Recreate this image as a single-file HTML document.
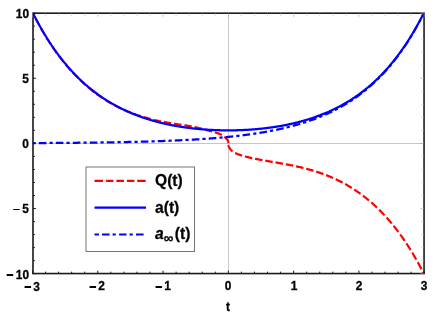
<!DOCTYPE html>
<html><head><meta charset="utf-8"><title>plot</title>
<style>
html,body{margin:0;padding:0;background:#fff;}
body{width:436px;height:317px;position:relative;overflow:hidden;font-family:"Liberation Sans",sans-serif;}
.m{display:inline-block;width:7.1px;height:1.6px;background:#000;margin-right:2.6px;vertical-align:2.75px;}
.t{position:absolute;filter:grayscale(1);-webkit-text-stroke:0.3px #000;font-family:"Liberation Sans",sans-serif;font-weight:bold;color:#000;line-height:1;white-space:nowrap;}
</style></head><body>
<svg width="436" height="317" viewBox="0 0 436 317" style="position:absolute;left:0;top:0"><defs><clipPath id="c"><rect x="32.5" y="13.1" width="391.7" height="260.59999999999997"/></clipPath></defs><line x1="228.5" y1="13.1" x2="228.5" y2="273.7" stroke="#cacaca" stroke-width="1"/><line x1="32.5" y1="143.5" x2="424.2" y2="143.5" stroke="#c6c6c6" stroke-width="1"/><g clip-path="url(#c)"><g transform="scale(1,1.076)" fill="none" stroke-linejoin="round"><path d="M32.50,11.56 L33.42,13.25 L34.34,14.93 L35.26,16.58 L36.17,18.21 L37.09,19.81 L38.01,21.39 L38.93,22.95 L39.85,24.49 L40.77,26.01 L41.69,27.50 L42.60,28.97 L43.52,30.43 L44.44,31.86 L45.36,33.27 L46.28,34.67 L47.20,36.04 L48.12,37.39 L49.03,38.73 L49.95,40.05 L50.87,41.34 L51.79,42.62 L52.71,43.88 L53.63,45.13 L54.55,46.35 L55.46,47.56 L56.38,48.76 L57.30,49.93 L58.22,51.09 L59.14,52.23 L60.06,53.36 L60.98,54.47 L61.89,55.56 L62.81,56.64 L63.73,57.71 L64.65,58.76 L65.57,59.79 L66.49,60.81 L67.41,61.82 L68.32,62.81 L69.24,63.78 L70.16,64.75 L71.08,65.70 L72.00,66.63 L72.92,67.55 L73.84,68.46 L74.75,69.36 L75.67,70.24 L76.59,71.12 L77.51,71.97 L78.43,72.82 L79.35,73.66 L80.27,74.48 L81.18,75.29 L82.10,76.09 L83.02,76.88 L83.94,77.65 L84.86,78.42 L85.78,79.17 L86.70,79.91 L87.61,80.65 L88.53,81.37 L89.45,82.08 L90.37,82.78 L91.29,83.47 L92.21,84.15 L93.12,84.82 L94.04,85.48 L94.96,86.13 L95.88,86.77 L96.80,87.40 L97.72,88.03 L98.64,88.64 L99.55,89.24 L100.47,89.83 L101.39,90.42 L102.31,90.99 L103.23,91.56 L104.15,92.11 L105.07,92.66 L105.98,93.20 L106.90,93.73 L107.82,94.25 L108.74,94.76 L109.66,95.26 L110.58,95.76 L111.50,96.24 L112.41,96.72 L113.33,97.19 L114.25,97.65 L115.17,98.10 L116.09,98.55 L117.01,98.99 L117.93,99.42 L118.84,99.84 L119.76,100.26 L120.68,100.66 L121.60,101.06 L122.52,101.46 L123.44,101.84 L124.36,102.22 L125.27,102.60 L126.19,102.96 L127.11,103.32 L128.03,103.68 L128.95,104.02 L129.87,104.36 L130.79,104.70 L131.70,105.03 L132.62,105.35 L133.54,105.67 L134.46,105.98 L135.38,106.29 L136.30,106.60 L137.22,106.89 L138.13,107.19 L139.05,107.47 L139.97,107.76 L140.89,108.03 L141.81,108.31 L142.73,108.57 L143.65,108.84 L144.56,109.09 L145.48,109.35 L146.40,109.60 L147.32,109.84 L148.24,110.08 L149.16,110.31 L150.08,110.54 L150.99,110.76 L151.91,110.98 L152.83,111.19 L153.75,111.40 L154.67,111.61 L155.59,111.81 L156.51,112.00 L157.42,112.19 L158.34,112.37 L159.26,112.55 L160.18,112.72 L161.10,112.89 L162.02,113.05 L162.94,113.21 L163.85,113.37 L164.77,113.52 L165.69,113.67 L166.61,113.82 L167.53,113.97 L168.45,114.12 L169.37,114.27 L170.28,114.42 L171.20,114.56 L172.12,114.70 L173.04,114.84 L173.96,114.98 L174.88,115.12 L175.80,115.26 L176.71,115.39 L177.63,115.52 L178.55,115.65 L179.47,115.77 L180.39,115.89 L181.31,116.01 L182.23,116.13 L183.14,116.24 L184.06,116.37 L184.98,116.49 L185.90,116.62 L186.82,116.75 L187.74,116.89 L188.66,117.04 L189.57,117.19 L190.49,117.35 L191.41,117.52 L192.33,117.69 L193.25,117.86 L194.17,118.04 L195.09,118.22 L196.00,118.40 L196.92,118.59 L197.84,118.77 L198.76,118.96 L199.68,119.17 L200.60,119.38 L201.51,119.60 L202.43,119.83 L203.35,120.06 L204.27,120.30 L205.19,120.53 L206.11,120.76 L207.03,120.98 L207.94,121.21 L208.86,121.44 L209.78,121.67 L210.70,121.90 L211.62,122.14 L212.54,122.37 L213.46,122.61 L214.37,122.86 L215.29,123.11 L216.34,123.39 L217.30,123.68 L218.18,123.95 L218.99,124.22 L219.74,124.49 L220.43,124.79 L221.06,125.10 L221.64,125.41 L222.18,125.72 L222.67,126.02 L223.12,126.30 L223.54,126.58 L223.92,126.84 L224.28,127.08 L224.60,127.32 L224.90,127.57 L225.18,127.80 L225.43,128.03 L225.66,128.25 L225.88,128.45 L226.08,128.64 L226.26,128.82 L226.42,128.99 L226.58,129.14 L226.72,129.28 L226.85,129.42 L226.97,129.54 L227.08,129.66 L227.18,129.77 L227.27,129.88 L227.36,129.98 L227.44,130.08 L227.51,130.18 L227.58,130.27 L227.64,130.36 L227.70,130.45 L227.75,130.53 L227.80,130.61 L227.84,130.68 L227.88,130.76 L227.92,130.83 L227.95,130.90 L227.99,130.97 L228.01,131.03 L228.04,131.09 L228.07,131.16 L228.09,131.21 L228.11,131.27 L228.13,131.33 L228.15,131.38 L228.16,131.43 L228.18,131.49 L228.19,131.53 L228.20,131.58 L228.22,131.63 L228.23,131.67 L228.24,131.72 L228.25,131.76 L228.25,131.80 L228.26,131.84 L228.27,131.88 L228.28,131.92 L228.28,131.96 L228.29,131.99 L228.29,132.03 L228.30,132.06 L228.30,132.10 L228.30,132.13 L228.31,132.16 L228.31,132.19 L228.31,132.22 L228.32,132.25 L228.32,132.28 L228.32,132.30 L228.32,132.33 L228.33,132.36 L228.33,132.38 L228.33,132.41 L228.33,132.43 L228.33,132.45 L228.33,132.48 L228.34,132.50 L228.34,132.52 L228.34,132.54 L228.34,132.56 L228.34,132.58 L228.34,132.60 L228.34,132.62 L228.34,132.63 L228.34,132.65 L228.34,132.67 L228.34,132.68 L228.34,132.70 L228.34,132.72 L228.35,132.73 L228.35,132.75 L228.35,132.76 L228.35,132.77 L228.35,132.79 L228.35,132.80 L228.35,132.81 L228.35,132.83 L228.35,132.84 L228.35,132.85 L228.35,132.86 L228.35,132.87 L228.35,132.88 L228.35,132.90 L228.35,132.91 L228.35,132.92 L228.35,132.93 L228.35,132.93 L228.35,132.94 L228.35,132.95 L228.35,132.96 L228.35,132.97 L228.35,132.98 L228.35,132.99 L228.35,132.99 L228.35,133.27 L228.35,133.60 L228.36,134.08 L228.37,134.28 L228.38,134.42 L228.39,134.53 L228.40,134.63 L228.40,134.72 L228.41,134.79 L228.42,134.86 L228.43,134.93 L228.44,134.99 L228.45,135.04 L228.46,135.10 L228.47,135.15 L228.48,135.20 L228.49,135.24 L228.49,135.29 L228.50,135.33 L228.51,135.37 L228.52,135.41 L228.53,135.45 L228.54,135.49 L228.55,135.52 L228.56,135.56 L228.57,135.59 L228.58,135.63 L228.58,135.66 L228.59,135.69 L228.60,135.72 L228.61,135.75" stroke="#ff0000" stroke-width="2.1" stroke-dasharray="7.5 2.9" stroke-dashoffset="4.0"/><path d="M228.40,134.69 L228.40,134.72 L228.41,134.74 L228.41,134.76 L228.41,134.79 L228.42,134.81 L228.42,134.84 L228.42,134.86 L228.43,134.89 L228.43,134.91 L228.43,134.94 L228.44,134.96 L228.44,134.99 L228.45,135.02 L228.45,135.05 L228.45,135.08 L228.46,135.10 L228.46,135.13 L228.47,135.16 L228.48,135.19 L228.48,135.23 L228.49,135.26 L228.49,135.29 L228.50,135.32 L228.51,135.36 L228.52,135.39 L228.52,135.42 L228.53,135.46 L228.54,135.49 L228.55,135.53 L228.56,135.57 L228.57,135.61 L228.58,135.64 L228.59,135.68 L228.60,135.72 L228.61,135.77 L228.63,135.81 L228.64,135.85 L228.65,135.89 L228.67,135.94 L228.68,135.98 L228.70,136.03 L228.72,136.07 L228.73,136.12 L228.75,136.17 L228.77,136.22 L228.79,136.27 L228.81,136.32 L228.83,136.38 L228.86,136.43 L228.88,136.49 L228.91,136.54 L228.93,136.60 L228.96,136.66 L228.99,136.72 L229.02,136.78 L229.05,136.85 L229.09,136.91 L229.12,136.98 L229.16,137.05 L229.20,137.12 L229.24,137.19 L229.28,137.26 L229.32,137.33 L229.37,137.41 L229.42,137.48 L229.47,137.56 L229.52,137.64 L229.58,137.73 L229.63,137.81 L229.69,137.90 L229.76,137.98 L229.82,138.07 L229.89,138.16 L229.97,138.25 L230.05,138.35 L230.13,138.44 L230.21,138.54 L230.30,138.64 L230.39,138.74 L230.49,138.85 L230.59,138.96 L230.70,139.07 L230.81,139.18 L230.92,139.30 L231.05,139.42 L231.17,139.54 L231.31,139.67 L231.45,139.79 L231.60,139.93 L231.75,140.06 L231.91,140.20 L232.08,140.34 L232.26,140.48 L232.44,140.62 L232.64,140.76 L232.84,140.91 L233.05,141.06 L233.28,141.20 L233.51,141.35 L233.76,141.49 L234.01,141.63 L234.28,141.77 L234.56,141.91 L234.86,142.05 L235.17,142.19 L235.49,142.34 L235.83,142.48 L236.19,142.63 L236.56,142.79 L236.95,142.94 L237.36,143.10 L237.79,143.26 L238.23,143.42 L238.70,143.58 L239.19,143.75 L239.71,143.92 L240.25,144.09 L240.81,144.27 L241.41,144.45 L242.33,144.71 L243.24,144.96 L244.16,145.21 L245.08,145.44 L246.00,145.66 L246.92,145.88 L247.84,146.09 L248.76,146.29 L249.67,146.49 L250.59,146.68 L251.51,146.87 L252.43,147.05 L253.35,147.23 L254.27,147.41 L255.19,147.58 L256.10,147.75 L257.02,147.91 L257.94,148.08 L258.86,148.24 L259.78,148.40 L260.70,148.55 L261.61,148.71 L262.53,148.86 L263.45,149.02 L264.37,149.17 L265.29,149.32 L266.21,149.47 L267.13,149.61 L268.04,149.76 L268.96,149.91 L269.88,150.05 L270.80,150.20 L271.72,150.34 L272.64,150.49 L273.56,150.64 L274.47,150.78 L275.39,150.93 L276.31,151.07 L277.23,151.22 L278.15,151.37 L279.07,151.52 L279.99,151.67 L280.90,151.82 L281.82,151.97 L282.74,152.12 L283.66,152.28 L284.58,152.43 L285.50,152.59 L286.42,152.75 L287.33,152.91 L288.25,153.07 L289.17,153.24 L290.09,153.40 L291.01,153.57 L291.93,153.74 L292.85,153.92 L293.76,154.09 L294.68,154.27 L295.60,154.46 L296.52,154.64 L297.44,154.83 L298.36,155.02 L299.28,155.21 L300.19,155.41 L301.11,155.61 L302.03,155.81 L302.95,156.02 L303.87,156.23 L304.79,156.45 L305.71,156.67 L306.62,156.89 L307.54,157.12 L308.46,157.35 L309.38,157.58 L310.30,157.82 L311.22,158.07 L312.14,158.32 L313.05,158.57 L313.97,158.83 L314.89,159.09 L315.81,159.36 L316.73,159.64 L317.65,159.91 L318.57,160.20 L319.48,160.49 L320.40,160.78 L321.32,161.08 L322.24,161.38 L323.16,161.70 L324.08,162.01 L325.00,162.33 L325.91,162.66 L326.83,163.00 L327.75,163.34 L328.67,163.68 L329.59,164.04 L330.51,164.40 L331.43,164.76 L332.34,165.13 L333.26,165.51 L334.18,165.90 L335.10,166.29 L336.02,166.69 L336.94,167.09 L337.86,167.51 L338.77,167.93 L339.69,168.35 L340.61,168.79 L341.53,169.23 L342.45,169.68 L343.37,170.13 L344.29,170.60 L345.20,171.07 L346.12,171.55 L347.04,172.04 L347.96,172.53 L348.88,173.04 L349.80,173.55 L350.72,174.07 L351.63,174.60 L352.55,175.14 L353.47,175.68 L354.39,176.24 L355.31,176.80 L356.23,177.38 L357.15,177.96 L358.06,178.55 L358.98,179.15 L359.90,179.76 L360.82,180.38 L361.74,181.01 L362.66,181.65 L363.58,182.29 L364.49,182.95 L365.41,183.62 L366.33,184.30 L367.25,184.99 L368.17,185.69 L369.09,186.40 L370.00,187.12 L370.92,187.85 L371.84,188.60 L372.76,189.35 L373.68,190.12 L374.60,190.90 L375.52,191.69 L376.43,192.49 L377.35,193.30 L378.27,194.12 L379.19,194.96 L380.11,195.81 L381.03,196.67 L381.95,197.55 L382.86,198.44 L383.78,199.34 L384.70,200.25 L385.62,201.18 L386.54,202.12 L387.46,203.08 L388.38,204.05 L389.29,205.03 L390.21,206.03 L391.13,207.04 L392.05,208.07 L392.97,209.11 L393.89,210.17 L394.81,211.24 L395.72,212.33 L396.64,213.44 L397.56,214.56 L398.48,215.69 L399.40,216.85 L400.32,218.02 L401.24,219.20 L402.15,220.41 L403.07,221.63 L403.99,222.87 L404.91,224.12 L405.83,225.40 L406.75,226.69 L407.67,228.00 L408.58,229.33 L409.50,230.68 L410.42,232.05 L411.34,233.44 L412.26,234.85 L413.18,236.28 L414.10,237.73 L415.01,239.20 L415.93,240.69 L416.85,242.20 L417.77,243.73 L418.69,245.29 L419.61,246.87 L420.53,248.47 L421.44,250.09 L422.36,251.74 L423.28,253.41 L424.20,255.11" stroke="#ff0000" stroke-width="2.1" stroke-dasharray="7.5 2.9" stroke-dashoffset="0"/><path d="M32.50,11.36 L33.15,12.56 L33.81,13.76 L34.46,14.95 L35.12,16.12 L35.77,17.28 L36.42,18.43 L37.08,19.57 L37.73,20.70 L38.39,21.81 L39.04,22.92 L39.69,24.01 L40.35,25.09 L41.00,26.16 L41.65,27.22 L42.31,28.27 L42.96,29.31 L43.62,30.34 L44.27,31.36 L44.92,32.37 L45.58,33.37 L46.23,34.36 L46.89,35.33 L47.54,36.30 L48.19,37.26 L48.85,38.21 L49.50,39.15 L50.16,40.08 L50.81,41.00 L51.46,41.91 L52.12,42.82 L52.77,43.71 L53.43,44.59 L54.08,45.47 L54.73,46.34 L55.39,47.19 L56.04,48.04 L56.70,48.88 L57.35,49.72 L58.00,50.54 L58.66,51.36 L59.31,52.16 L59.96,52.96 L60.62,53.75 L61.27,54.54 L61.93,55.31 L62.58,56.08 L63.23,56.84 L63.89,57.59 L64.54,58.34 L65.20,59.07 L65.85,59.80 L66.50,60.52 L67.16,61.24 L67.81,61.95 L68.47,62.65 L69.12,63.34 L69.77,64.03 L70.43,64.71 L71.08,65.38 L71.74,66.04 L72.39,66.70 L73.04,67.36 L73.70,68.00 L74.35,68.64 L75.01,69.27 L75.66,69.90 L76.31,70.52 L76.97,71.13 L77.62,71.74 L78.27,72.34 L78.93,72.94 L79.58,73.53 L80.24,74.11 L80.89,74.69 L81.54,75.26 L82.20,75.82 L82.85,76.38 L83.51,76.94 L84.16,77.48 L84.81,78.03 L85.47,78.56 L86.12,79.10 L86.78,79.62 L87.43,80.14 L88.08,80.66 L88.74,81.17 L89.39,81.67 L90.05,82.17 L90.70,82.67 L91.35,83.16 L92.01,83.64 L92.66,84.12 L93.31,84.60 L93.97,85.07 L94.62,85.53 L95.28,85.99 L95.93,86.45 L96.58,86.90 L97.24,87.34 L97.89,87.79 L98.55,88.22 L99.20,88.65 L99.85,89.08 L100.51,89.51 L101.16,89.93 L101.82,90.34 L102.47,90.75 L103.12,91.16 L103.78,91.56 L104.43,91.96 L105.09,92.35 L105.74,92.74 L106.39,93.12 L107.05,93.51 L107.70,93.88 L108.36,94.26 L109.01,94.63 L109.66,94.99 L110.32,95.35 L110.97,95.71 L111.62,96.07 L112.28,96.42 L112.93,96.76 L113.59,97.11 L114.24,97.45 L114.89,97.78 L115.55,98.11 L116.20,98.44 L116.86,98.77 L117.51,99.09 L118.16,99.41 L118.82,99.72 L119.47,100.04 L120.13,100.34 L120.78,100.65 L121.43,100.95 L122.09,101.25 L122.74,101.55 L123.40,101.84 L124.05,102.13 L124.70,102.41 L125.36,102.69 L126.01,102.97 L126.66,103.25 L127.32,103.52 L127.97,103.80 L128.63,104.06 L129.28,104.33 L129.93,104.59 L130.59,104.85 L131.24,105.11 L131.90,105.36 L132.55,105.61 L133.20,105.86 L133.86,106.10 L134.51,106.34 L135.17,106.58 L135.82,106.82 L136.47,107.05 L137.13,107.29 L137.78,107.52 L138.44,107.74 L139.09,107.97 L139.74,108.19 L140.40,108.41 L141.05,108.62 L141.71,108.84 L142.36,109.05 L143.01,109.26 L143.67,109.46 L144.32,109.67 L144.97,109.87 L145.63,110.07 L146.28,110.26 L146.94,110.46 L147.59,110.65 L148.24,110.84 L148.90,111.03 L149.55,111.22 L150.21,111.40 L150.86,111.58 L151.51,111.76 L152.17,111.94 L152.82,112.11 L153.48,112.28 L154.13,112.46 L154.78,112.62 L155.44,112.79 L156.09,112.95 L156.75,113.12 L157.40,113.28 L158.05,113.44 L158.71,113.59 L159.36,113.75 L160.02,113.90 L160.67,114.05 L161.32,114.20 L161.98,114.34 L162.63,114.49 L163.28,114.63 L163.94,114.77 L164.59,114.91 L165.25,115.05 L165.90,115.19 L166.55,115.32 L167.21,115.45 L167.86,115.58 L168.52,115.71 L169.17,115.84 L169.82,115.96 L170.48,116.08 L171.13,116.21 L171.79,116.32 L172.44,116.44 L173.09,116.56 L173.75,116.67 L174.40,116.79 L175.06,116.90 L175.71,117.01 L176.36,117.11 L177.02,117.22 L177.67,117.33 L178.32,117.43 L178.98,117.53 L179.63,117.63 L180.29,117.73 L180.94,117.83 L181.59,117.92 L182.25,118.01 L182.90,118.11 L183.56,118.20 L184.21,118.29 L184.86,118.37 L185.52,118.46 L186.17,118.55 L186.83,118.63 L187.48,118.71 L188.13,118.79 L188.79,118.87 L189.44,118.95 L190.10,119.02 L190.75,119.10 L191.40,119.17 L192.06,119.24 L192.71,119.31 L193.37,119.38 L194.02,119.45 L194.67,119.51 L195.33,119.58 L195.98,119.64 L196.63,119.70 L197.29,119.76 L197.94,119.82 L198.60,119.88 L199.25,119.94 L199.90,119.99 L200.56,120.05 L201.21,120.10 L201.87,120.15 L202.52,120.20 L203.17,120.25 L203.83,120.30 L204.48,120.34 L205.14,120.39 L205.79,120.43 L206.44,120.47 L207.10,120.51 L207.75,120.55 L208.41,120.59 L209.06,120.63 L209.71,120.66 L210.37,120.70 L211.02,120.73 L211.67,120.76 L212.33,120.80 L212.98,120.82 L213.64,120.85 L214.29,120.88 L214.94,120.91 L215.60,120.93 L216.25,120.95 L216.91,120.98 L217.56,121.00 L218.21,121.02 L218.87,121.03 L219.52,121.05 L220.18,121.07 L220.83,121.08 L221.48,121.09 L222.14,121.11 L222.79,121.12 L223.45,121.13 L224.10,121.14 L224.75,121.14 L225.41,121.15 L226.06,121.15 L226.72,121.16 L227.37,121.16 L228.02,121.16 L228.68,121.16 L229.33,121.16 L229.98,121.16 L230.64,121.15 L231.29,121.15 L231.95,121.14 L232.60,121.14 L233.25,121.13 L233.91,121.12 L234.56,121.11 L235.22,121.09 L235.87,121.08 L236.52,121.07 L237.18,121.05 L237.83,121.03 L238.49,121.02 L239.14,121.00 L239.79,120.98 L240.45,120.95 L241.10,120.93 L241.76,120.91 L242.41,120.88 L243.06,120.85 L243.72,120.82 L244.37,120.80 L245.03,120.76 L245.68,120.73 L246.33,120.70 L246.99,120.66 L247.64,120.63 L248.29,120.59 L248.95,120.55 L249.60,120.51 L250.26,120.47 L250.91,120.43 L251.56,120.39 L252.22,120.34 L252.87,120.30 L253.53,120.25 L254.18,120.20 L254.83,120.15 L255.49,120.10 L256.14,120.05 L256.80,119.99 L257.45,119.94 L258.10,119.88 L258.76,119.82 L259.41,119.76 L260.07,119.70 L260.72,119.64 L261.37,119.58 L262.03,119.51 L262.68,119.45 L263.33,119.38 L263.99,119.31 L264.64,119.24 L265.30,119.17 L265.95,119.10 L266.60,119.02 L267.26,118.95 L267.91,118.87 L268.57,118.79 L269.22,118.71 L269.87,118.63 L270.53,118.55 L271.18,118.46 L271.84,118.37 L272.49,118.29 L273.14,118.20 L273.80,118.11 L274.45,118.01 L275.11,117.92 L275.76,117.83 L276.41,117.73 L277.07,117.63 L277.72,117.53 L278.38,117.43 L279.03,117.33 L279.68,117.22 L280.34,117.11 L280.99,117.01 L281.64,116.90 L282.30,116.79 L282.95,116.67 L283.61,116.56 L284.26,116.44 L284.91,116.32 L285.57,116.21 L286.22,116.08 L286.88,115.96 L287.53,115.84 L288.18,115.71 L288.84,115.58 L289.49,115.45 L290.15,115.32 L290.80,115.19 L291.45,115.05 L292.11,114.91 L292.76,114.77 L293.42,114.63 L294.07,114.49 L294.72,114.34 L295.38,114.20 L296.03,114.05 L296.68,113.90 L297.34,113.75 L297.99,113.59 L298.65,113.44 L299.30,113.28 L299.95,113.12 L300.61,112.95 L301.26,112.79 L301.92,112.62 L302.57,112.46 L303.22,112.28 L303.88,112.11 L304.53,111.94 L305.19,111.76 L305.84,111.58 L306.49,111.40 L307.15,111.22 L307.80,111.03 L308.46,110.84 L309.11,110.65 L309.76,110.46 L310.42,110.26 L311.07,110.07 L311.73,109.87 L312.38,109.67 L313.03,109.46 L313.69,109.26 L314.34,109.05 L314.99,108.84 L315.65,108.62 L316.30,108.41 L316.96,108.19 L317.61,107.97 L318.26,107.74 L318.92,107.52 L319.57,107.29 L320.23,107.05 L320.88,106.82 L321.53,106.58 L322.19,106.34 L322.84,106.10 L323.50,105.86 L324.15,105.61 L324.80,105.36 L325.46,105.11 L326.11,104.85 L326.77,104.59 L327.42,104.33 L328.07,104.06 L328.73,103.80 L329.38,103.52 L330.04,103.25 L330.69,102.97 L331.34,102.69 L332.00,102.41 L332.65,102.13 L333.30,101.84 L333.96,101.55 L334.61,101.25 L335.27,100.95 L335.92,100.65 L336.57,100.34 L337.23,100.04 L337.88,99.72 L338.54,99.41 L339.19,99.09 L339.84,98.77 L340.50,98.44 L341.15,98.11 L341.81,97.78 L342.46,97.45 L343.11,97.11 L343.77,96.76 L344.42,96.42 L345.08,96.07 L345.73,95.71 L346.38,95.35 L347.04,94.99 L347.69,94.63 L348.34,94.26 L349.00,93.88 L349.65,93.51 L350.31,93.12 L350.96,92.74 L351.61,92.35 L352.27,91.96 L352.92,91.56 L353.58,91.16 L354.23,90.75 L354.88,90.34 L355.54,89.93 L356.19,89.51 L356.85,89.08 L357.50,88.65 L358.15,88.22 L358.81,87.79 L359.46,87.34 L360.12,86.90 L360.77,86.45 L361.42,85.99 L362.08,85.53 L362.73,85.07 L363.39,84.60 L364.04,84.12 L364.69,83.64 L365.35,83.16 L366.00,82.67 L366.65,82.17 L367.31,81.67 L367.96,81.17 L368.62,80.66 L369.27,80.14 L369.92,79.62 L370.58,79.10 L371.23,78.56 L371.89,78.03 L372.54,77.48 L373.19,76.94 L373.85,76.38 L374.50,75.82 L375.16,75.26 L375.81,74.69 L376.46,74.11 L377.12,73.53 L377.77,72.94 L378.43,72.34 L379.08,71.74 L379.73,71.13 L380.39,70.52 L381.04,69.90 L381.69,69.27 L382.35,68.64 L383.00,68.00 L383.66,67.36 L384.31,66.70 L384.96,66.04 L385.62,65.38 L386.27,64.71 L386.93,64.03 L387.58,63.34 L388.23,62.65 L388.89,61.95 L389.54,61.24 L390.20,60.52 L390.85,59.80 L391.50,59.07 L392.16,58.34 L392.81,57.59 L393.47,56.84 L394.12,56.08 L394.77,55.31 L395.43,54.54 L396.08,53.75 L396.74,52.96 L397.39,52.16 L398.04,51.36 L398.70,50.54 L399.35,49.72 L400.00,48.88 L400.66,48.04 L401.31,47.19 L401.97,46.34 L402.62,45.47 L403.27,44.59 L403.93,43.71 L404.58,42.82 L405.24,41.91 L405.89,41.00 L406.54,40.08 L407.20,39.15 L407.85,38.21 L408.51,37.26 L409.16,36.30 L409.81,35.33 L410.47,34.36 L411.12,33.37 L411.78,32.37 L412.43,31.36 L413.08,30.34 L413.74,29.31 L414.39,28.27 L415.05,27.22 L415.70,26.16 L416.35,25.09 L417.01,24.01 L417.66,22.92 L418.31,21.81 L418.97,20.70 L419.62,19.57 L420.28,18.43 L420.93,17.28 L421.58,16.12 L422.24,14.95 L422.89,13.76 L423.55,12.56 L424.20,11.36" stroke="#0000ff" stroke-width="2.1"/><path d="M32.50,132.97 L33.15,132.97 L33.81,132.96 L34.46,132.96 L35.12,132.96 L35.77,132.95 L36.42,132.95 L37.08,132.95 L37.73,132.94 L38.39,132.94 L39.04,132.94 L39.69,132.93 L40.35,132.93 L41.00,132.93 L41.65,132.92 L42.31,132.92 L42.96,132.92 L43.62,132.91 L44.27,132.91 L44.92,132.91 L45.58,132.90 L46.23,132.90 L46.89,132.90 L47.54,132.89 L48.19,132.89 L48.85,132.88 L49.50,132.88 L50.16,132.88 L50.81,132.87 L51.46,132.87 L52.12,132.86 L52.77,132.86 L53.43,132.86 L54.08,132.85 L54.73,132.85 L55.39,132.84 L56.04,132.84 L56.70,132.83 L57.35,132.83 L58.00,132.83 L58.66,132.82 L59.31,132.82 L59.96,132.81 L60.62,132.81 L61.27,132.80 L61.93,132.80 L62.58,132.79 L63.23,132.79 L63.89,132.78 L64.54,132.78 L65.20,132.77 L65.85,132.77 L66.50,132.76 L67.16,132.76 L67.81,132.75 L68.47,132.75 L69.12,132.74 L69.77,132.74 L70.43,132.73 L71.08,132.73 L71.74,132.72 L72.39,132.72 L73.04,132.71 L73.70,132.70 L74.35,132.70 L75.01,132.69 L75.66,132.69 L76.31,132.68 L76.97,132.68 L77.62,132.67 L78.27,132.66 L78.93,132.66 L79.58,132.65 L80.24,132.65 L80.89,132.64 L81.54,132.63 L82.20,132.63 L82.85,132.62 L83.51,132.61 L84.16,132.61 L84.81,132.60 L85.47,132.59 L86.12,132.59 L86.78,132.58 L87.43,132.57 L88.08,132.57 L88.74,132.56 L89.39,132.55 L90.05,132.54 L90.70,132.54 L91.35,132.53 L92.01,132.52 L92.66,132.51 L93.31,132.51 L93.97,132.50 L94.62,132.49 L95.28,132.48 L95.93,132.47 L96.58,132.47 L97.24,132.46 L97.89,132.45 L98.55,132.44 L99.20,132.43 L99.85,132.43 L100.51,132.42 L101.16,132.41 L101.82,132.40 L102.47,132.39 L103.12,132.38 L103.78,132.37 L104.43,132.36 L105.09,132.35 L105.74,132.35 L106.39,132.34 L107.05,132.33 L107.70,132.32 L108.36,132.31 L109.01,132.30 L109.66,132.29 L110.32,132.28 L110.97,132.27 L111.62,132.26 L112.28,132.25 L112.93,132.24 L113.59,132.23 L114.24,132.22 L114.89,132.21 L115.55,132.20 L116.20,132.18 L116.86,132.17 L117.51,132.16 L118.16,132.15 L118.82,132.14 L119.47,132.13 L120.13,132.12 L120.78,132.11 L121.43,132.09 L122.09,132.08 L122.74,132.07 L123.40,132.06 L124.05,132.05 L124.70,132.03 L125.36,132.02 L126.01,132.01 L126.66,132.00 L127.32,131.98 L127.97,131.97 L128.63,131.96 L129.28,131.94 L129.93,131.93 L130.59,131.92 L131.24,131.90 L131.90,131.89 L132.55,131.88 L133.20,131.86 L133.86,131.85 L134.51,131.83 L135.17,131.82 L135.82,131.80 L136.47,131.79 L137.13,131.77 L137.78,131.76 L138.44,131.74 L139.09,131.73 L139.74,131.71 L140.40,131.70 L141.05,131.68 L141.71,131.67 L142.36,131.65 L143.01,131.63 L143.67,131.62 L144.32,131.60 L144.97,131.58 L145.63,131.57 L146.28,131.55 L146.94,131.53 L147.59,131.51 L148.24,131.50 L148.90,131.48 L149.55,131.46 L150.21,131.44 L150.86,131.42 L151.51,131.41 L152.17,131.39 L152.82,131.37 L153.48,131.35 L154.13,131.33 L154.78,131.31 L155.44,131.29 L156.09,131.27 L156.75,131.25 L157.40,131.23 L158.05,131.21 L158.71,131.19 L159.36,131.17 L160.02,131.15 L160.67,131.12 L161.32,131.10 L161.98,131.08 L162.63,131.06 L163.28,131.04 L163.94,131.01 L164.59,130.99 L165.25,130.97 L165.90,130.95 L166.55,130.92 L167.21,130.90 L167.86,130.87 L168.52,130.85 L169.17,130.83 L169.82,130.80 L170.48,130.78 L171.13,130.75 L171.79,130.73 L172.44,130.70 L173.09,130.67 L173.75,130.65 L174.40,130.62 L175.06,130.59 L175.71,130.57 L176.36,130.54 L177.02,130.51 L177.67,130.49 L178.32,130.46 L178.98,130.43 L179.63,130.40 L180.29,130.37 L180.94,130.34 L181.59,130.31 L182.25,130.28 L182.90,130.25 L183.56,130.22 L184.21,130.19 L184.86,130.16 L185.52,130.13 L186.17,130.10 L186.83,130.07 L187.48,130.03 L188.13,130.00 L188.79,129.97 L189.44,129.94 L190.10,129.90 L190.75,129.87 L191.40,129.83 L192.06,129.80 L192.71,129.76 L193.37,129.73 L194.02,129.69 L194.67,129.66 L195.33,129.62 L195.98,129.58 L196.63,129.55 L197.29,129.51 L197.94,129.47 L198.60,129.43 L199.25,129.39 L199.90,129.36 L200.56,129.32 L201.21,129.28 L201.87,129.24 L202.52,129.20 L203.17,129.15 L203.83,129.11 L204.48,129.07 L205.14,129.03 L205.79,128.99 L206.44,128.94 L207.10,128.90 L207.75,128.85 L208.41,128.81 L209.06,128.77 L209.71,128.72 L210.37,128.67 L211.02,128.63 L211.67,128.58 L212.33,128.53 L212.98,128.49 L213.64,128.44 L214.29,128.39 L214.94,128.34 L215.60,128.29 L216.25,128.24 L216.91,128.19 L217.56,128.14 L218.21,128.09 L218.87,128.04 L219.52,127.98 L220.18,127.93 L220.83,127.88 L221.48,127.82 L222.14,127.77 L222.79,127.71 L223.45,127.65 L224.10,127.60 L224.75,127.54 L225.41,127.48 L226.06,127.43 L226.72,127.37 L227.37,127.31 L228.02,127.25 L228.68,127.19 L229.33,127.12 L229.98,127.06 L230.64,127.00 L231.29,126.94 L231.95,126.87 L232.60,126.81 L233.25,126.74 L233.91,126.68 L234.56,126.61 L235.22,126.55 L235.87,126.48 L236.52,126.41 L237.18,126.34 L237.83,126.27 L238.49,126.20 L239.14,126.13 L239.79,126.06 L240.45,125.98 L241.10,125.91 L241.76,125.84 L242.41,125.76 L243.06,125.69 L243.72,125.61 L244.37,125.53 L245.03,125.45 L245.68,125.38 L246.33,125.30 L246.99,125.22 L247.64,125.13 L248.29,125.05 L248.95,124.97 L249.60,124.89 L250.26,124.80 L250.91,124.72 L251.56,124.63 L252.22,124.54 L252.87,124.46 L253.53,124.37 L254.18,124.28 L254.83,124.19 L255.49,124.10 L256.14,124.00 L256.80,123.91 L257.45,123.82 L258.10,123.72 L258.76,123.62 L259.41,123.53 L260.07,123.43 L260.72,123.33 L261.37,123.23 L262.03,123.13 L262.68,123.03 L263.33,122.92 L263.99,122.82 L264.64,122.71 L265.30,122.61 L265.95,122.50 L266.60,122.39 L267.26,122.28 L267.91,122.17 L268.57,122.06 L269.22,121.95 L269.87,121.83 L270.53,121.72 L271.18,121.60 L271.84,121.48 L272.49,121.37 L273.14,121.25 L273.80,121.13 L274.45,121.00 L275.11,120.88 L275.76,120.75 L276.41,120.63 L277.07,120.50 L277.72,120.37 L278.38,120.24 L279.03,120.11 L279.68,119.98 L280.34,119.85 L280.99,119.71 L281.64,119.57 L282.30,119.44 L282.95,119.30 L283.61,119.16 L284.26,119.01 L284.91,118.87 L285.57,118.73 L286.22,118.58 L286.88,118.43 L287.53,118.28 L288.18,118.13 L288.84,117.98 L289.49,117.82 L290.15,117.67 L290.80,117.51 L291.45,117.35 L292.11,117.19 L292.76,117.03 L293.42,116.87 L294.07,116.70 L294.72,116.54 L295.38,116.37 L296.03,116.20 L296.68,116.03 L297.34,115.85 L297.99,115.68 L298.65,115.50 L299.30,115.32 L299.95,115.14 L300.61,114.96 L301.26,114.77 L301.92,114.59 L302.57,114.40 L303.22,114.21 L303.88,114.02 L304.53,113.82 L305.19,113.63 L305.84,113.43 L306.49,113.23 L307.15,113.03 L307.80,112.82 L308.46,112.62 L309.11,112.41 L309.76,112.20 L310.42,111.99 L311.07,111.77 L311.73,111.56 L312.38,111.34 L313.03,111.12 L313.69,110.89 L314.34,110.67 L314.99,110.44 L315.65,110.21 L316.30,109.98 L316.96,109.75 L317.61,109.51 L318.26,109.27 L318.92,109.03 L319.57,108.78 L320.23,108.54 L320.88,108.29 L321.53,108.04 L322.19,107.78 L322.84,107.53 L323.50,107.27 L324.15,107.00 L324.80,106.74 L325.46,106.47 L326.11,106.20 L326.77,105.93 L327.42,105.66 L328.07,105.38 L328.73,105.10 L329.38,104.81 L330.04,104.53 L330.69,104.24 L331.34,103.95 L332.00,103.65 L332.65,103.35 L333.30,103.05 L333.96,102.75 L334.61,102.44 L335.27,102.13 L335.92,101.81 L336.57,101.50 L337.23,101.18 L337.88,100.86 L338.54,100.53 L339.19,100.20 L339.84,99.87 L340.50,99.53 L341.15,99.19 L341.81,98.85 L342.46,98.50 L343.11,98.15 L343.77,97.80 L344.42,97.44 L345.08,97.08 L345.73,96.72 L346.38,96.35 L347.04,95.98 L347.69,95.60 L348.34,95.22 L349.00,94.84 L349.65,94.45 L350.31,94.06 L350.96,93.67 L351.61,93.27 L352.27,92.86 L352.92,92.46 L353.58,92.05 L354.23,91.63 L354.88,91.21 L355.54,90.79 L356.19,90.36 L356.85,89.93 L357.50,89.49 L358.15,89.05 L358.81,88.61 L359.46,88.16 L360.12,87.70 L360.77,87.24 L361.42,86.78 L362.08,86.31 L362.73,85.84 L363.39,85.36 L364.04,84.88 L364.69,84.39 L365.35,83.90 L366.00,83.40 L366.65,82.90 L367.31,82.39 L367.96,81.88 L368.62,81.37 L369.27,80.84 L369.92,80.31 L370.58,79.78 L371.23,79.24 L371.89,78.70 L372.54,78.15 L373.19,77.60 L373.85,77.03 L374.50,76.47 L375.16,75.90 L375.81,75.32 L376.46,74.74 L377.12,74.15 L377.77,73.55 L378.43,72.95 L379.08,72.34 L379.73,71.73 L380.39,71.11 L381.04,70.48 L381.69,69.85 L382.35,69.21 L383.00,68.57 L383.66,67.92 L384.31,67.26 L384.96,66.59 L385.62,65.92 L386.27,65.25 L386.93,64.56 L387.58,63.87 L388.23,63.17 L388.89,62.46 L389.54,61.75 L390.20,61.03 L390.85,60.30 L391.50,59.57 L392.16,58.83 L392.81,58.08 L393.47,57.32 L394.12,56.56 L394.77,55.78 L395.43,55.00 L396.08,54.22 L396.74,53.42 L397.39,52.62 L398.04,51.81 L398.70,50.98 L399.35,50.16 L400.00,49.32 L400.66,48.47 L401.31,47.62 L401.97,46.76 L402.62,45.89 L403.27,45.01 L403.93,44.12 L404.58,43.22 L405.24,42.32 L405.89,41.40 L406.54,40.48 L407.20,39.54 L407.85,38.60 L408.51,37.64 L409.16,36.68 L409.81,35.71 L410.47,34.73 L411.12,33.74 L411.78,32.73 L412.43,31.72 L413.08,30.70 L413.74,29.67 L414.39,28.62 L415.05,27.57 L415.70,26.51 L416.35,25.43 L417.01,24.34 L417.66,23.25 L418.31,22.14 L418.97,21.02 L419.62,19.89 L420.28,18.75 L420.93,17.60 L421.58,16.43 L422.24,15.26 L422.89,14.07 L423.55,12.87 L424.20,11.66" stroke="#0000ff" stroke-width="2.1" stroke-dasharray="3.2 3.1 7.6 3.1"/></g></g><rect x="33.0" y="13.2" width="391.05" height="260.35" fill="none" stroke="#1a1a1a" stroke-width="1.6"/><path d="M32.50,273.55 v-2.9 M45.56,273.55 v-1.9 M58.61,273.55 v-1.9 M71.67,273.55 v-1.9 M84.73,273.55 v-1.9 M97.78,273.55 v-2.9 M110.84,273.55 v-1.9 M123.90,273.55 v-1.9 M136.95,273.55 v-1.9 M150.01,273.55 v-1.9 M163.07,273.55 v-2.9 M176.12,273.55 v-1.9 M189.18,273.55 v-1.9 M202.24,273.55 v-1.9 M215.29,273.55 v-1.9 M228.35,273.55 v-2.9 M241.41,273.55 v-1.9 M254.46,273.55 v-1.9 M267.52,273.55 v-1.9 M280.58,273.55 v-1.9 M293.63,273.55 v-2.9 M306.69,273.55 v-1.9 M319.75,273.55 v-1.9 M332.80,273.55 v-1.9 M345.86,273.55 v-1.9 M358.92,273.55 v-2.9 M371.97,273.55 v-1.9 M385.03,273.55 v-1.9 M398.09,273.55 v-1.9 M411.14,273.55 v-1.9 M424.20,273.55 v-2.9 M33.0,273.70 h2.9 M33.0,260.67 h1.9 M33.0,247.64 h1.9 M33.0,234.61 h1.9 M33.0,221.58 h1.9 M33.0,208.55 h2.9 M33.0,195.52 h1.9 M33.0,182.49 h1.9 M33.0,169.46 h1.9 M33.0,156.43 h1.9 M33.0,143.40 h2.9 M33.0,130.37 h1.9 M33.0,117.34 h1.9 M33.0,104.31 h1.9 M33.0,91.28 h1.9 M33.0,78.25 h2.9 M33.0,65.22 h1.9 M33.0,52.19 h1.9 M33.0,39.16 h1.9 M33.0,26.13 h1.9 M33.0,13.10 h2.9" stroke="#1a1a1a" stroke-width="1.0" fill="none"/><path d="M32.50,13.2 v3.915 M45.56,13.2 v2.565 M58.61,13.2 v2.565 M71.67,13.2 v2.565 M84.73,13.2 v2.565 M97.78,13.2 v3.915 M110.84,13.2 v2.565 M123.90,13.2 v2.565 M136.95,13.2 v2.565 M150.01,13.2 v2.565 M163.07,13.2 v3.915 M176.12,13.2 v2.565 M189.18,13.2 v2.565 M202.24,13.2 v2.565 M215.29,13.2 v2.565 M228.35,13.2 v3.915 M241.41,13.2 v2.565 M254.46,13.2 v2.565 M267.52,13.2 v2.565 M280.58,13.2 v2.565 M293.63,13.2 v3.915 M306.69,13.2 v2.565 M319.75,13.2 v2.565 M332.80,13.2 v2.565 M345.86,13.2 v2.565 M358.92,13.2 v3.915 M371.97,13.2 v2.565 M385.03,13.2 v2.565 M398.09,13.2 v2.565 M411.14,13.2 v2.565 M424.20,13.2 v3.915 M424.05,273.70 h-3.915 M424.05,260.67 h-2.565 M424.05,247.64 h-2.565 M424.05,234.61 h-2.565 M424.05,221.58 h-2.565 M424.05,208.55 h-3.915 M424.05,195.52 h-2.565 M424.05,182.49 h-2.565 M424.05,169.46 h-2.565 M424.05,156.43 h-2.565 M424.05,143.40 h-3.915 M424.05,130.37 h-2.565 M424.05,117.34 h-2.565 M424.05,104.31 h-2.565 M424.05,91.28 h-2.565 M424.05,78.25 h-3.915 M424.05,65.22 h-2.565 M424.05,52.19 h-2.565 M424.05,39.16 h-2.565 M424.05,26.13 h-2.565 M424.05,13.10 h-3.915" stroke="#a8a8a8" stroke-width="0.55" fill="none"/><rect x="86" y="167" width="108.5" height="84.5" fill="#fff" stroke="#747474" stroke-width="1"/><path d="M94.5,180.9 H103 M106.1,180.9 H113.4 M116.4,180.9 H124 M126.9,180.9 H134.4 M137.2,180.9 H145.7" stroke="#ff0000" stroke-width="2.1" fill="none"/><path d="M94.5,207.6 H146" stroke="#0000ff" stroke-width="2.1" fill="none"/><path d="M94.5,234.5 H143.8" stroke="#0000ff" stroke-width="2.1" stroke-dasharray="4.4 3.1 7.6 3.0 3.2 3.3 7.4 3.0 3.3 3.2 7.6 3" fill="none"/></svg>
<div class="t" style="left:-17.80px;width:100px;text-align:center;transform-origin:50% 50%;transform:scaleX(0.93);top:280.66px;font-size:12.8px;"><span class="m"></span>3</div><div class="t" style="left:47.48px;width:100px;text-align:center;transform-origin:50% 50%;transform:scaleX(0.93);top:280.26px;font-size:12.8px;"><span class="m"></span>2</div><div class="t" style="left:112.77px;width:100px;text-align:center;transform-origin:50% 50%;transform:scaleX(0.93);top:280.26px;font-size:12.8px;"><span class="m"></span>1</div><div class="t" style="left:178.35px;width:100px;text-align:center;transform-origin:50% 50%;transform:scaleX(0.93);top:280.26px;font-size:12.8px;">0</div><div class="t" style="left:243.63px;width:100px;text-align:center;transform-origin:50% 50%;transform:scaleX(0.93);top:280.26px;font-size:12.8px;">1</div><div class="t" style="left:308.92px;width:100px;text-align:center;transform-origin:50% 50%;transform:scaleX(0.93);top:280.26px;font-size:12.8px;">2</div><div class="t" style="left:374.20px;width:100px;text-align:center;transform-origin:50% 50%;transform:scaleX(0.93);top:280.26px;font-size:12.8px;">3</div><div class="t" style="left:-71.15px;width:100px;text-align:right;transform-origin:100% 50%;transform:scaleX(0.93);top:268.76px;font-size:12.8px;"><span class="m"></span>10</div><div class="t" style="left:-71.15px;width:100px;text-align:right;transform-origin:100% 50%;transform:scaleX(0.93);top:203.11px;font-size:12.8px;"><span class="m"></span>5</div><div class="t" style="left:-71.15px;width:100px;text-align:right;transform-origin:100% 50%;transform:scaleX(0.93);top:137.96px;font-size:12.8px;">0</div><div class="t" style="left:-71.15px;width:100px;text-align:right;transform-origin:100% 50%;transform:scaleX(0.93);top:72.81px;font-size:12.8px;">5</div><div class="t" style="left:-71.15px;width:100px;text-align:right;transform-origin:100% 50%;transform:scaleX(0.93);top:8.46px;font-size:12.8px;">10</div><div class="t" style="left:178.40px;width:100px;text-align:center;transform-origin:50% 50%;transform:scaleX(0.93);top:301.36px;font-size:12.8px;">t</div><div class="t" style="left:154.90px;text-align:left;transform-origin:0 50%;transform:scaleX(0.93);top:172.98px;font-size:16.8px;">Q(t)</div><div class="t" style="left:154.90px;text-align:left;transform-origin:0 50%;transform:scaleX(0.93);top:199.78px;font-size:16.8px;">a(t)</div><div class="t" style="left:154.90px;text-align:left;transform-origin:0 50%;transform:scaleX(0.93);top:226.48px;font-size:16.8px;"><i>a</i><span style="font-size:14.5px;position:relative;top:3.4px;margin:0 1.6px 0 0">∞</span>(t)</div>
</body></html>
